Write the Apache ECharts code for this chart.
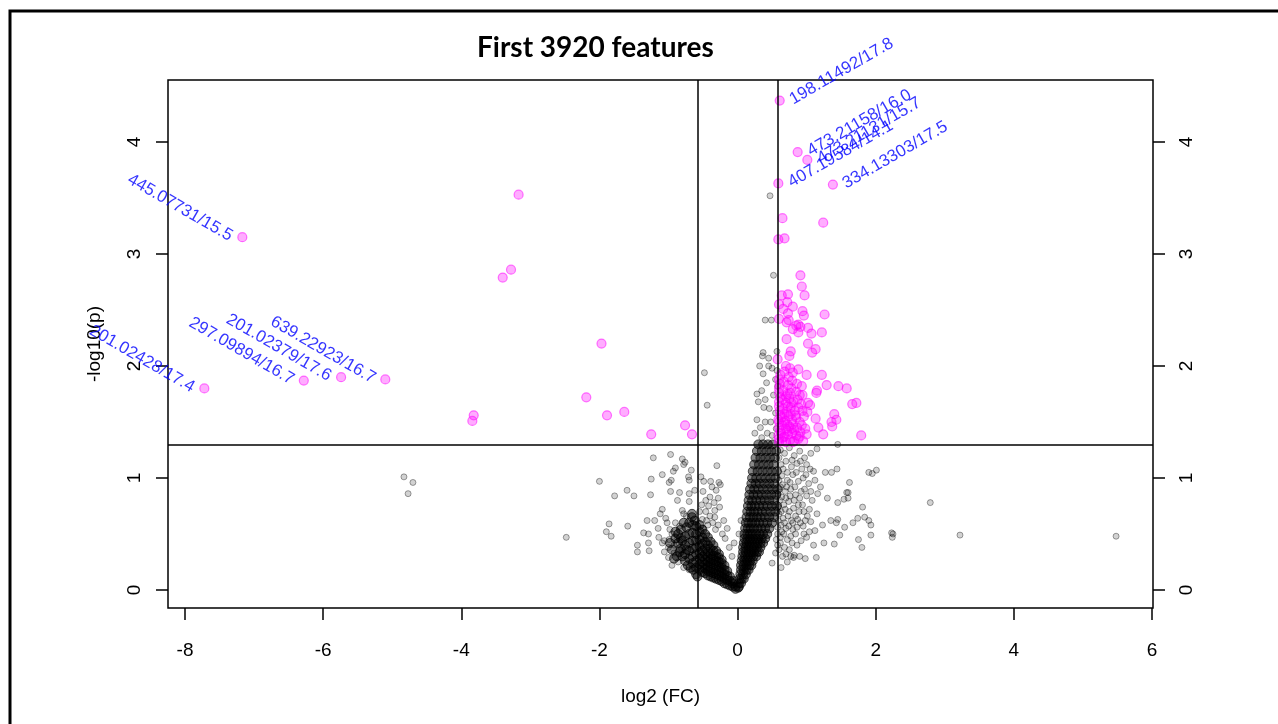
<!DOCTYPE html>
<html>
<head>
<meta charset="utf-8">
<script src="https://cdn.jsdelivr.net/npm/echarts@6/dist/echarts.min.js"></script>
<style>
  html, body { margin: 0; padding: 0; background: #fff; }
  #volcano { width: 1278px; height: 724px; }
</style>
</head>
<body>
<div id="volcano"></div>
<script>
// tick labels
var xTicks = [-8, -6, -4, -2, 0, 2, 4, 6];
var yTicks = [0, 1, 2, 3, 4];

// cut-offs: fold change 1.5 and p = 0.05
var fcCut = [-0.585, 0.585];
var pCut = 1.301;

// labelled significant features [log2FC, -log10p]
var labelNames = ["445.07731/15.5", "201.02428/17.4", "297.09894/16.7", "201.02379/17.6", "639.22923/16.7",
  "198.11492/17.8", "473.21158/16.0", "473.21131/15.7", "407.19584/14.1", "334.13303/17.5"];
var labelX = [-7.17, -7.72, -6.28, -5.74, -5.10, 0.61, 0.87, 1.01, 0.59, 1.38];
var labelY = [3.15, 1.80, 1.87, 1.90, 1.88, 4.37, 3.91, 3.84, 3.63, 3.62];
var labelSide = ["left", "left", "left", "left", "left", "right", "right", "right", "right", "right"];

// other significant features
var sigLeft = [[-3.17,3.53],[-3.28,2.86],[-3.40,2.79],[-1.97,2.20],[-2.19,1.72],[-1.89,1.56],[-1.64,1.59],
  [-3.82,1.56],[-3.84,1.51],[-1.25,1.39],[-0.76,1.47],[-0.66,1.39]];
var sigRight = [[0.65,3.32],[1.24,3.28],[0.59,3.13],[0.68,3.14],[0.91,2.81],[0.93,2.71],[0.97,2.63],[0.64,2.63],
  [0.73,2.64],[0.72,2.57],[0.80,2.53],[0.60,2.55],[0.66,2.51],[0.94,2.49],[0.96,2.45],[0.73,2.47],[1.26,2.46],
  [0.60,2.42],[0.71,2.39],[0.74,2.41],[0.85,2.36],[0.88,2.37],[0.91,2.35],[0.80,2.33],[0.88,2.30],[1.02,2.34],
  [1.07,2.29],[1.22,2.30],[0.71,2.24],[1.02,2.20],[1.13,2.15],[1.08,2.12],[0.58,2.06],[0.77,2.13],[0.75,2.09],
  [1.00,1.92],[1.22,1.92],[1.29,1.83],[1.46,1.82],[1.58,1.80],[0.93,1.82],[0.94,1.74],[1.14,1.76],[1.15,1.78],
  [1.66,1.66],[1.72,1.67],[1.02,1.67],[1.05,1.65],[1.01,1.59],[1.40,1.57],[1.43,1.52],[1.36,1.50],[1.37,1.46],
  [1.13,1.53],[1.17,1.45],[1.24,1.39],[1.79,1.38],
  [0.60,1.32],[0.65,1.33],[0.70,1.32],[0.76,1.34],[0.82,1.33],[0.88,1.35],[0.95,1.33],
  [0.59,1.38],[0.63,1.40],[0.68,1.37],[0.73,1.39],[0.79,1.40],[0.85,1.38],[0.91,1.41],[1.00,1.39],
  [0.60,1.45],[0.65,1.47],[0.70,1.44],[0.75,1.46],[0.80,1.48],[0.86,1.45],[0.93,1.47],[0.98,1.44],
  [0.59,1.52],[0.64,1.54],[0.69,1.51],[0.74,1.55],[0.79,1.52],[0.85,1.54],[0.90,1.50],[0.96,1.55],
  [0.61,1.60],[0.66,1.62],[0.71,1.59],[0.77,1.63],[0.83,1.60],[0.88,1.63],[0.94,1.60],
  [0.60,1.68],[0.65,1.70],[0.70,1.67],[0.75,1.71],[0.81,1.68],[0.87,1.70],[0.92,1.66],
  [0.60,1.76],[0.66,1.78],[0.72,1.75],[0.78,1.80],[0.85,1.77],[0.90,1.74],
  [0.61,1.84],[0.67,1.86],[0.73,1.83],[0.79,1.87],[0.86,1.84],
  [0.62,1.92],[0.68,1.95],[0.74,1.90],[0.80,1.94],[0.88,1.97],[0.70,2.00],[0.76,1.98],
  [0.60,1.35],[0.62,1.42],[0.60,1.50],[0.62,1.56],[0.60,1.64],[0.62,1.72],[0.60,1.80],[0.60,1.88],[0.66,1.36],
  [0.72,1.42],[0.78,1.44],[0.67,1.50],[0.72,1.48],[0.77,1.57],[0.68,1.57],[0.73,1.64],[0.78,1.67],[0.70,1.73],
  [0.76,1.76],[0.82,1.43],[0.84,1.56],[0.80,1.32],[0.90,1.37]];

// non-significant features, scattered
var nsSparse = [[-4.83,1.01],[-4.77,0.86],[-4.70,0.96],[-2.48,0.47],[-2.00,0.97],
  [-1.22,1.18],[-0.97,1.21],[-0.80,1.17],[-0.76,1.14],[-0.78,1.12],[-0.90,1.09],[-0.93,1.06],[-0.96,0.98],
  [-0.99,0.96],[-1.25,0.99],[-1.09,1.03],[-1.60,0.89],[-1.78,0.84],[-1.50,0.84],[-1.26,0.85],[-0.97,0.88],
  [-0.84,0.87],[-0.70,0.86],[-0.87,0.80],[-0.70,0.98],[-0.71,1.01],[-0.67,1.07],[-0.62,0.89],[-1.09,0.72],
  [-1.04,0.64],[-0.98,0.54],[-1.31,0.62],[-1.59,0.57],[-1.86,0.59],[-1.90,0.52],[-1.83,0.48],[-1.36,0.51],
  [-1.29,0.50],[-1.29,0.42],[-1.45,0.40],[-1.45,0.34],[-1.28,0.35],[-1.14,0.47],[-1.06,0.44],[-0.99,0.45],
  [-1.09,0.42],[-1.06,0.34],[-1.00,0.29],[-0.92,0.33],[-0.85,0.32],[-0.81,0.37],[-0.80,0.71],[-0.78,0.68],
  [-0.84,0.57],[-0.74,0.66],[-0.70,0.79],[-0.90,0.60],[-0.95,0.50],[-0.88,0.45],[-0.92,0.40],[-1.00,0.38],
  [-1.15,0.55],[-1.20,0.62],[-1.12,0.68],[-0.86,0.25],[-0.78,0.20],[-0.70,0.18],[-0.95,0.22],[-1.02,0.60],
  [-0.53,1.01],[-0.49,0.97],[-0.39,0.97],[-0.37,0.92],[-0.27,0.96],[-0.25,0.94],[-0.31,0.89],[-0.30,1.11],
  [-0.46,0.80],[-0.42,0.75],[-0.33,0.71],[-0.26,0.74],[-0.51,0.63],[-0.43,0.58],[-0.32,0.54],[-0.15,0.55],
  [-0.33,0.65],[-0.55,0.70],[-0.50,0.88],[-0.20,0.62],[0.02,0.50],[0.05,0.62],[-0.05,0.42],
  [-0.50,0.55],[-0.45,0.62],[-0.40,0.66],[-0.36,0.60],[-0.28,0.58],[-0.22,0.50],[-0.18,0.46],[-0.12,0.38],
  [-0.08,0.30],[-0.40,0.83],[-0.34,0.78],[-0.28,0.82],[-0.52,0.76],[-0.46,0.70],
  [-0.48,1.94],[-0.44,1.65],[0.47,3.52],[0.52,2.81],[0.40,2.41],[0.49,2.41],[0.37,2.12],[0.36,2.09],
  [0.45,2.07],[0.57,2.13],[0.32,2.00],[0.37,1.93],[0.45,2.00],[0.50,1.98],[0.57,1.96],
  [0.28,1.75],[0.35,1.78],[0.40,1.70],[0.30,1.68],[0.38,1.63],[0.46,1.62],[0.52,1.74],[0.55,1.58],
  [0.48,1.50],[0.40,1.50],[0.33,1.45],[0.28,1.52],[0.50,1.38],[0.56,1.44],[0.43,1.40],[0.35,1.36],
  [0.25,1.40],[0.58,1.82],[0.55,1.88],[0.42,1.85],
  [0.62,1.25],[0.68,1.22],[0.75,1.27],[0.82,1.20],[0.90,1.24],[0.97,1.18],[1.06,1.22],[1.15,1.26],[1.45,1.30],
  [0.63,1.12],[0.70,1.15],[0.78,1.10],[0.86,1.13],[0.93,1.08],[1.00,1.12],[1.10,1.06],[1.27,1.05],[1.36,1.05],
  [1.44,1.08],[0.64,1.02],[0.72,0.98],[0.80,1.03],[0.88,0.97],[0.95,1.00],[1.03,0.95],[1.12,0.98],[1.20,0.92],
  [0.62,0.92],[0.69,0.88],[0.77,0.90],[0.84,0.85],[0.92,0.88],[1.00,0.84],[1.08,0.80],[1.16,0.86],[1.30,0.82],
  [1.62,0.96],[1.58,0.87],[1.60,0.87],[1.54,0.81],[1.60,0.82],
  [0.61,0.80],[0.67,0.76],[0.74,0.79],[0.81,0.73],[0.88,0.76],[0.96,0.70],[1.04,0.72],[1.15,0.68],[1.45,0.78],
  [1.81,0.74],[0.60,0.68],[0.66,0.64],[0.73,0.66],[0.80,0.60],[0.87,0.63],[0.95,0.57],[1.06,0.61],[1.12,0.53],
  [1.23,0.58],[1.35,0.62],[0.58,0.56],[0.64,0.52],[0.70,0.55],[0.77,0.48],[0.84,0.50],[0.92,0.44],[1.00,0.47],
  [1.10,0.40],[1.25,0.42],[1.40,0.41],[1.48,0.49],[1.14,0.29],[0.56,0.45],[0.62,0.42],[0.68,0.38],[0.75,0.36],
  [0.82,0.31],[0.90,0.30],[0.98,0.28],[0.81,0.29],[0.65,0.30],[0.72,0.25],[0.63,0.20],[0.55,0.33],[0.50,0.24],
  [0.60,1.18],[0.66,1.08],[0.72,1.05],[0.79,1.16],[0.85,1.05],[0.91,1.15],[0.99,1.03],[1.05,1.08],
  [0.60,0.98],[0.65,0.94],[0.71,0.92],[0.76,0.96],[0.83,0.92],[0.90,0.82],[0.97,0.90],[1.06,0.88],
  [0.59,0.86],[0.64,0.83],[0.70,0.82],[0.76,0.84],[0.82,0.80],[0.89,0.70],[0.94,0.76],[1.01,0.66],
  [0.59,0.74],[0.63,0.70],[0.69,0.72],[0.75,0.70],[0.78,0.62],[0.84,0.66],[0.91,0.60],[0.98,0.62],
  [0.59,0.62],[0.63,0.58],[0.68,0.60],[0.74,0.57],[0.80,0.54],[0.86,0.56],[0.96,0.50],[1.04,0.52],
  [0.58,0.50],[0.62,0.47],[0.67,0.50],[0.72,0.45],[0.79,0.42],[0.86,0.40],[0.60,0.36],[0.70,0.32],[0.77,0.30],[0.58,0.40],
  [1.74,0.64],[1.84,0.65],[1.90,0.62],[1.93,0.58],[1.67,0.60],[1.55,0.56],[1.43,0.60],[1.45,0.63],
  [2.23,0.51],[2.24,0.47],[2.25,0.50],[1.93,0.49],[1.75,0.45],[1.80,0.38],[2.79,0.78],[3.22,0.49],[5.48,0.48],
  [1.90,1.05],[2.01,1.07],[1.95,1.04]];

// non-significant features, dense V around the origin
var nsCore = [[-0.03,0.01],[-0.03,0.03],[-0.07,0.03],[-0.07,0.06],[-0.06,0.08],[-0.11,0.04],[-0.11,0.08],[-0.11,0.12],
  [-0.15,0.05],[-0.15,0.09],[-0.15,0.13],[-0.15,0.17],[-0.19,0.06],[-0.19,0.10],[-0.19,0.14],[-0.19,0.18],[-0.19,0.22],
  [-0.23,0.08],[-0.23,0.12],[-0.23,0.16],[-0.23,0.20],[-0.23,0.24],[-0.23,0.27],
  [-0.27,0.09],[-0.27,0.13],[-0.27,0.17],[-0.27,0.21],[-0.27,0.25],[-0.27,0.29],[-0.27,0.32],
  [-0.31,0.10],[-0.31,0.14],[-0.31,0.18],[-0.31,0.22],[-0.31,0.26],[-0.31,0.30],[-0.31,0.35],
  [-0.35,0.11],[-0.35,0.15],[-0.35,0.19],[-0.35,0.23],[-0.35,0.27],[-0.35,0.31],[-0.35,0.35],[-0.35,0.40],
  [-0.39,0.12],[-0.39,0.16],[-0.39,0.20],[-0.39,0.24],[-0.39,0.28],[-0.39,0.32],[-0.39,0.37],[-0.39,0.43],
  [-0.43,0.13],[-0.43,0.17],[-0.43,0.21],[-0.43,0.25],[-0.43,0.29],[-0.43,0.34],[-0.43,0.40],[-0.43,0.47],
  [-0.47,0.15],[-0.47,0.19],[-0.47,0.23],[-0.47,0.27],[-0.47,0.32],[-0.47,0.37],[-0.47,0.43],[-0.47,0.50],
  [-0.51,0.16],[-0.51,0.20],[-0.51,0.25],[-0.51,0.30],[-0.51,0.35],[-0.51,0.41],[-0.51,0.47],[-0.51,0.54],
  [-0.55,0.18],[-0.55,0.23],[-0.55,0.28],[-0.55,0.33],[-0.55,0.39],[-0.55,0.45],[-0.55,0.52],[-0.55,0.58],
  [-0.60,0.20],[-0.60,0.26],[-0.60,0.32],[-0.60,0.38],[-0.60,0.44],[-0.60,0.50],[-0.60,0.57],
  [-0.65,0.24],[-0.65,0.30],[-0.65,0.37],[-0.65,0.44],[-0.65,0.51],[-0.65,0.58],
  [-0.70,0.28],[-0.70,0.35],[-0.70,0.42],[-0.70,0.50],[-0.76,0.32],[-0.76,0.40],[-0.76,0.48],[-0.82,0.37],[-0.82,0.46],
  [-0.62,0.62],[-0.66,0.68],[-0.70,0.60],[-0.74,0.56],[-0.78,0.60],[-0.82,0.54],[-0.86,0.50],[-0.90,0.52],
  [-0.72,0.22],[-0.76,0.26],[-0.80,0.30],[-0.84,0.34],[-0.88,0.30],[-0.92,0.28],[-0.68,0.20],[-0.64,0.18],
  [-0.60,0.14],[-0.58,0.12],[-0.86,0.42],[-0.90,0.46],[-0.95,0.36],[-0.98,0.42],[-0.74,0.36],[-0.80,0.44],[-0.66,0.65],
  [0.01,0.02],[0.02,0.03],[0.02,0.06],[0.05,0.06],[0.03,0.10],[0.06,0.10],[0.09,0.10],
  [0.04,0.14],[0.08,0.14],[0.12,0.14],[0.05,0.18],[0.09,0.18],[0.13,0.18],[0.16,0.18],
  [0.05,0.22],[0.09,0.22],[0.13,0.22],[0.17,0.22],[0.20,0.22],[0.06,0.26],[0.10,0.26],[0.14,0.26],[0.18,0.26],[0.22,0.26],
  [0.07,0.30],[0.11,0.30],[0.15,0.30],[0.19,0.30],[0.23,0.30],[0.27,0.30],
  [0.08,0.34],[0.12,0.34],[0.16,0.34],[0.20,0.34],[0.24,0.34],[0.28,0.34],[0.31,0.34],
  [0.08,0.38],[0.12,0.38],[0.16,0.38],[0.20,0.38],[0.24,0.38],[0.28,0.38],[0.33,0.38],
  [0.09,0.42],[0.13,0.42],[0.17,0.42],[0.21,0.42],[0.25,0.42],[0.29,0.42],[0.33,0.42],[0.37,0.42],
  [0.10,0.46],[0.14,0.46],[0.18,0.46],[0.22,0.46],[0.26,0.46],[0.30,0.46],[0.35,0.46],[0.40,0.46],
  [0.10,0.50],[0.14,0.50],[0.18,0.50],[0.22,0.50],[0.27,0.50],[0.32,0.50],[0.37,0.50],[0.43,0.50],
  [0.11,0.55],[0.15,0.55],[0.19,0.55],[0.24,0.55],[0.29,0.55],[0.34,0.55],[0.40,0.55],[0.46,0.55],
  [0.12,0.60],[0.16,0.60],[0.21,0.60],[0.26,0.60],[0.31,0.60],[0.37,0.60],[0.43,0.60],[0.50,0.60],
  [0.13,0.65],[0.18,0.65],[0.23,0.65],[0.28,0.65],[0.33,0.65],[0.39,0.65],[0.46,0.65],[0.53,0.65],
  [0.14,0.70],[0.19,0.70],[0.24,0.70],[0.29,0.70],[0.35,0.70],[0.41,0.70],[0.48,0.70],[0.55,0.70],
  [0.15,0.75],[0.20,0.75],[0.25,0.75],[0.31,0.75],[0.37,0.75],[0.43,0.75],[0.50,0.75],[0.57,0.75],
  [0.16,0.80],[0.21,0.80],[0.27,0.80],[0.33,0.80],[0.39,0.80],[0.46,0.80],[0.53,0.80],
  [0.17,0.85],[0.23,0.85],[0.29,0.85],[0.35,0.85],[0.42,0.85],[0.49,0.85],[0.56,0.85],
  [0.18,0.90],[0.24,0.90],[0.30,0.90],[0.37,0.90],[0.44,0.90],[0.51,0.90],[0.58,0.90],
  [0.20,0.95],[0.26,0.95],[0.32,0.95],[0.39,0.95],[0.46,0.95],[0.53,0.95],
  [0.21,1.00],[0.27,1.00],[0.34,1.00],[0.41,1.00],[0.48,1.00],[0.55,1.00],
  [0.22,1.06],[0.29,1.06],[0.36,1.06],[0.43,1.06],[0.50,1.06],[0.57,1.06],
  [0.24,1.12],[0.31,1.12],[0.38,1.12],[0.45,1.12],[0.52,1.12],[0.26,1.18],[0.33,1.18],[0.40,1.18],[0.47,1.18],[0.54,1.18],
  [0.28,1.24],[0.35,1.24],[0.42,1.24],[0.49,1.24],[0.56,1.24],[0.30,1.30],[0.37,1.30],[0.44,1.30],[0.51,1.30]];

var labelled = labelNames.map(function (name, i) {
  var left = labelSide[i] === "left";
  return {
    name: name,
    value: [labelX[i], labelY[i]],
    label: {
      show: true,
      formatter: name,
      position: left ? "left" : "right",
      rotate: left ? -30 : 30,
      distance: 6,
      color: "#0000ff",
      fontFamily: "Liberation Sans",
      fontSize: 17
    }
  };
});

var myChart = echarts.init(document.getElementById("volcano"));

var greyStyle = { color: "rgba(0,0,0,0.22)", borderColor: "rgba(0,0,0,0.45)", borderWidth: 1 };
var pinkStyle = { color: "rgba(255,0,255,0.4)", borderColor: "rgba(255,0,255,0.65)", borderWidth: 1.2 };
var tickFont = { color: "#000", fontFamily: "Liberation Sans", fontSize: 19 };

var option = {
  animation: false,
  backgroundColor: "#fff",
  title: {
    text: "First 3920 features",
    left: 472,
    top: 29,
    textStyle: { fontFamily: "Lato", fontWeight: "bold", fontSize: 28, color: "#000" }
  },
  graphic: [{
    type: "rect",
    shape: { x: 10, y: 11, width: 1300, height: 760 },
    style: { fill: "none", stroke: "#000", lineWidth: 3 },
    silent: true
  }],
  grid: [
    { left: 168, right: 125, top: 80, bottom: 116, show: true, borderColor: "#000", borderWidth: 1.5, backgroundColor: "transparent" },
    { left: 185, right: 126, top: 80, bottom: 116 },
    { left: 168, right: 125, top: 142, bottom: 134 }
  ],
  xAxis: [
    {
      gridIndex: 0, type: "value", min: -8.246, max: 6.0145,
      axisLine: { show: false }, axisTick: { show: false }, axisLabel: { show: false }, splitLine: { show: false },
      name: "log2 (FC)", nameLocation: "middle", nameGap: 79,
      nameTextStyle: tickFont
    },
    {
      gridIndex: 1, type: "value", min: xTicks[0], max: xTicks[xTicks.length - 1], interval: 2,
      axisLine: { show: false },
      axisTick: { show: true, length: 12, lineStyle: { color: "#000", width: 1.5 } },
      axisLabel: Object.assign({ margin: 33 }, tickFont),
      splitLine: { show: false }
    },
    { gridIndex: 2, type: "value", show: false, min: 0, max: 1 }
  ],
  yAxis: [
    {
      gridIndex: 0, type: "value", min: -0.161, max: 4.554,
      axisLine: { show: false }, axisTick: { show: false }, axisLabel: { show: false }, splitLine: { show: false },
      name: "-log10(p)", nameLocation: "middle", nameGap: 64, nameRotate: 90,
      nameTextStyle: tickFont
    },
    { gridIndex: 1, type: "value", show: false, min: 0, max: 1 },
    {
      gridIndex: 2, type: "value", position: "left", min: yTicks[0], max: yTicks[yTicks.length - 1], interval: 1,
      axisLine: { show: false },
      axisTick: { show: true, length: 12, lineStyle: { color: "#000", width: 1.5 } },
      axisLabel: Object.assign({ margin: 24, rotate: 90 }, tickFont),
      splitLine: { show: false }
    },
    {
      gridIndex: 2, type: "value", position: "right", min: yTicks[0], max: yTicks[yTicks.length - 1], interval: 1,
      axisLine: { show: false },
      axisTick: { show: true, length: 12, lineStyle: { color: "#000", width: 1.5 } },
      axisLabel: Object.assign({ margin: 24, rotate: 90 }, tickFont),
      splitLine: { show: false }
    }
  ],
  series: [
    {
      name: "ns core", type: "scatter", xAxisIndex: 0, yAxisIndex: 0,
      symbolSize: 9, data: nsCore,
      itemStyle: { color: "rgba(0,0,0,0.58)", borderColor: "rgba(0,0,0,0.78)", borderWidth: 1 }
    },
    {
      name: "ns", type: "scatter", xAxisIndex: 0, yAxisIndex: 0,
      symbolSize: 6, data: nsSparse, itemStyle: greyStyle,
      markLine: {
        silent: true, symbol: ["none", "none"], label: { show: false },
        lineStyle: { color: "#000", width: 1.5, type: "solid" },
        data: [{ xAxis: fcCut[0] }, { xAxis: fcCut[1] }, { yAxis: pCut }]
      }
    },
    {
      name: "sig", type: "scatter", xAxisIndex: 0, yAxisIndex: 0,
      symbolSize: 9, data: sigLeft.concat(sigRight), itemStyle: pinkStyle
    },
    {
      name: "labelled", type: "scatter", xAxisIndex: 0, yAxisIndex: 0,
      symbolSize: 9, data: labelled, itemStyle: pinkStyle
    }
  ]
};
myChart.setOption(option, true);
</script>
</body>
</html>
